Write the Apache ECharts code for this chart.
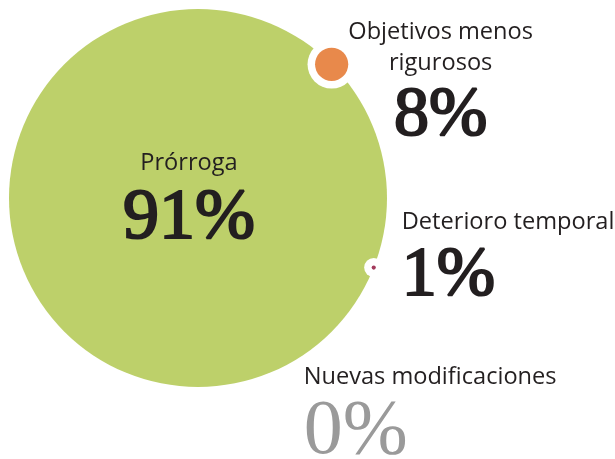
<!DOCTYPE html>
<html>
<head>
<meta charset="utf-8">
<script src="https://cdn.jsdelivr.net/npm/echarts@6/dist/echarts.min.js"></script>
<style>
html,body{margin:0;padding:0;background:#fff;}
#chart{width:615px;height:459px;}
</style>
</head>
<body>
<div id="chart"></div>
<script>
// ---- data ----
var categories = ['Prórroga', 'Objetivos menos rigurosos', 'Deterioro temporal', 'Nuevas modificaciones'];
var nameLines = [['Prórroga'], ['Objetivos menos', 'rigurosos'], ['Deterioro temporal'], ['Nuevas modificaciones']];
var values = [91, 8, 1, 0];
var valueLabels = ['91%', '8%', '1%', '0%'];

// ---- layout / style (not data) ----
var pxPerUnit = 378 / 91;           // bubble diameter per percentage point
var mainCenter = [198, 198];
var rimAngles = [null, 45, -21.6, -45]; // where small bubbles sit on the main bubble's rim
var colors = ['#bdd06a', '#e8894b', '#a33a5c', '#ffffff'];
var labelOffsets = [[-9, -50], [109, -48], [28, -60], [-28, 31]];
var labelAligns = ['center', 'center', 'left', 'left'];
var valLineHeights = [83, 77, 78, 80];
var nameLineHeights = [30, 31, 30, 30];
var valColors = ['#231f20', '#231f20', '#231f20', '#9a9a9a'];
var valSizes = [72, 70, 70, 78];
var valStroke = [2.2, 2.2, 2.2, 0];
var valFont = "'Liberation Serif', 'Times New Roman', serif";

var R = values[0] * pxPerUnit / 2;
function pos(i) {
  if (rimAngles[i] === null) return mainCenter.slice();
  var a = rimAngles[i] * Math.PI / 180;
  return [mainCenter[0] + R * Math.cos(a), mainCenter[1] - R * Math.sin(a)];
}

var mainData = [], haloData = [];
for (var i = 0; i < values.length; i++) {
  var p = pos(i);
  mainData.push({
    name: categories[i],
    value: [p[0], p[1], values[i]],
    itemStyle: { color: colors[i], opacity: 1 },
    label: {
      show: true,
      position: 'inside',
      offset: labelOffsets[i],
      align: labelAligns[i],
      verticalAlign: 'top',
      formatter: nameLines[i].map(function (l) { return '{n|' + l + '}'; }).join('\n') + '\n{v|' + valueLabels[i] + '}',
      rich: {
        n: { fontFamily: "'Open Sans', sans-serif", fontSize: 23.6, color: '#231f20', lineHeight: nameLineHeights[i], align: labelAligns[i] },
        v: {
          fontFamily: valFont, fontWeight: 'normal', fontSize: valSizes[i], color: valColors[i],
          textBorderColor: valColors[i], textBorderWidth: valStroke[i],
          lineHeight: valLineHeights[i], align: labelAligns[i]
        }
      }
    }
  });
  if (i > 0 && values[i] > 0) {
    haloData.push({ name: categories[i], value: [p[0], p[1], values[i]] });
  }
}

var chart = echarts.init(document.getElementById('chart'));
chart.setOption({
  animation: false,
  backgroundColor: '#ffffff',
  grid: { left: 0, top: 0, width: 615, height: 459 },
  xAxis: { type: 'value', min: 0, max: 615, show: false },
  yAxis: { type: 'value', min: 0, max: 459, inverse: true, show: false },
  series: [
    {
      type: 'scatter',
      z: 1,
      silent: true,
      data: [mainData[0]],
      itemStyle: { opacity: 1 },
      symbolSize: function (v) { return v[2] * pxPerUnit; }
    },
    {
      type: 'scatter',
      z: 2,
      silent: true,
      data: haloData,
      itemStyle: { color: '#ffffff', opacity: 1 },
      symbolSize: function (v) { return v[2] * pxPerUnit + 15; }
    },
    {
      type: 'scatter',
      z: 3,
      silent: true,
      data: mainData.slice(1),
      itemStyle: { opacity: 1 },
      symbolSize: function (v) { return v[2] * pxPerUnit; }
    }
  ]
});
</script>
</body>
</html>
